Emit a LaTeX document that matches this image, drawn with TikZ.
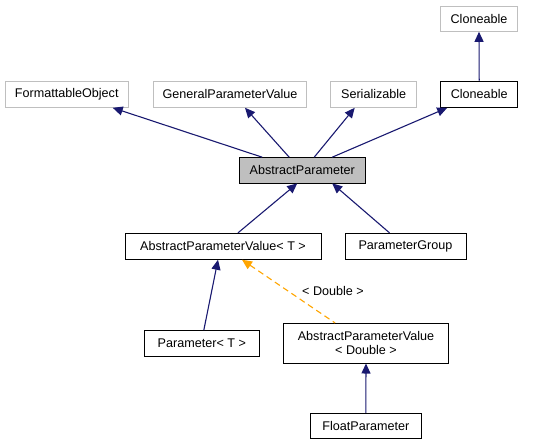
\documentclass[tikz,border=0pt]{standalone}
\usepackage{fontspec}
\setmainfont{Liberation Sans}
\usetikzlibrary{arrows.meta}
\definecolor{edgeblue}{HTML}{191970}
\definecolor{graybd}{HTML}{BFBFBF}
\definecolor{dorange}{HTML}{FFA500}
\tikzset{
  box/.style={draw=black, line width=0.9pt, fill=white, inner sep=0pt, align=center,
    font=\fontsize{12.6}{15}\selectfont},
  grybox/.style={box, draw=graybd},
  inh/.style={draw=edgeblue, line width=1.1pt, {Triangle[length=10pt,width=9pt]}-},
  tmpl/.style={draw=dorange, line width=1.1pt, dash pattern=on 6pt off 4pt, {Triangle[length=10pt,width=9pt]}-},
  lbl/.style={font=\fontsize{12.6}{15}\selectfont, inner sep=0pt}
}
\begin{document}
\begin{tikzpicture}[x=1pt,y=-1pt]
\useasboundingbox (0,0) rectangle (543,445);
\node[grybox, minimum width=76.6pt, minimum height=25.3pt] (cl0) at (479,18.7) {Cloneable};
\node[grybox, minimum width=123.3pt, minimum height=26.3pt] (fo) at (66.7,94.2) {FormattableObject};
\node[grybox, minimum width=153.4pt, minimum height=26.3pt] (gpv) at (230,94.2) {GeneralParameterValue};
\node[grybox, minimum width=86pt, minimum height=26.3pt] (ser) at (373.7,94.2) {Serializable};
\node[box, minimum width=77pt, minimum height=26.3pt] (cl1) at (479.2,94.2) {Cloneable};
\node[box, fill=graybd, minimum width=125.7pt, minimum height=25.3pt] (ap) at (302.2,170.3) {AbstractParameter};
\node[box, minimum width=196pt, minimum height=26pt] (apv) at (223,246.3) {AbstractParameterValue< T >};
\node[box, minimum width=121pt, minimum height=26pt] (pg) at (405.5,246.3) {ParameterGroup};
\node[box, minimum width=115pt, minimum height=25.3pt] (par) at (201.8,343.3) {Parameter< T >};
\node[box, minimum width=164.6pt, minimum height=39.7pt] (apvd) at (366,343.2) {AbstractParameterValue\\[-1pt]< Double >};
\node[box, minimum width=110.3pt, minimum height=25.4pt] (fp) at (365.8,426) {FloatParameter};

\draw[inh] (cl0.south) -- (cl1.north);
\draw[inh] ([xshift=46pt]fo.south) -- ([xshift=-40pt]ap.north);
\draw[inh] ([xshift=15pt]gpv.south) -- ([xshift=-13pt]ap.north);
\draw[inh] ([xshift=-19pt]ser.south) -- ([xshift=12pt]ap.north);
\draw[inh] ([xshift=-32pt]cl1.south) -- ([xshift=30pt]ap.north);
\draw[inh] ([xshift=-5pt]ap.south) -- ([xshift=15pt]apv.north);
\draw[inh] ([xshift=30pt]ap.south) -- ([xshift=-16pt]pg.north);
\draw[inh] ([xshift=-5pt]apv.south) -- ([xshift=2pt]par.north);
\draw[tmpl] ([xshift=19pt]apv.south) -- ([xshift=-31pt]apvd.north);
\node[lbl] (dlbl) at (333,291) {< Double >};
\draw[inh] (apvd.south) -- (fp.north);
\end{tikzpicture}
\end{document}
